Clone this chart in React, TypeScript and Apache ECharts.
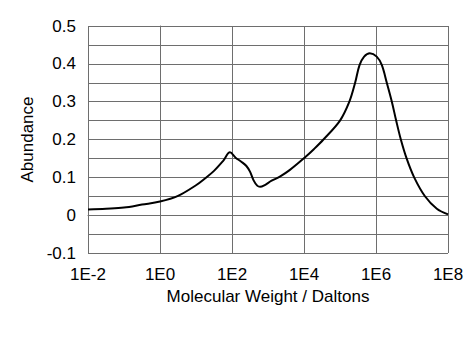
import React, { useEffect, useRef } from "react";
import * as echarts from "echarts";

// log10 of molecular weight (Daltons)
const logWeights = [
  -2, -1.5, -1, -0.5, 0, 0.5, 1, 1.25, 1.5, 1.75, 1.944, 2.1, 2.25, 2.4, 2.5,
  2.6, 2.7, 2.78, 2.9, 3.1, 3.33, 3.6, 4.03, 4.28, 4.54, 5.0, 5.26, 5.42, 5.54,
  5.67, 5.83, 6.02, 6.16, 6.3, 6.44, 6.56, 6.69, 6.85, 7.06, 7.36, 7.69, 8.0,
];
const abundance = [
  0.015, 0.017, 0.02, 0.028, 0.036, 0.051, 0.079, 0.097, 0.117, 0.143, 0.166,
  0.152, 0.142, 0.13, 0.115, 0.092, 0.078, 0.075, 0.079, 0.091, 0.102, 0.119,
  0.153, 0.175, 0.2, 0.25, 0.3, 0.35, 0.396, 0.419, 0.428, 0.419, 0.397, 0.35,
  0.3, 0.25, 0.2, 0.15, 0.1, 0.05, 0.017, 0.002,
];
const xTicks = [-2, 0, 2, 4, 6, 8];

const FONT = "'Liberation Sans', Arial, sans-serif";
const GRID = "#6e6e6e";

export default function App() {
  const ref = useRef<HTMLDivElement>(null);
  useEffect(() => {
    if (!ref.current) return;
    const chart = echarts.init(ref.current, undefined, { renderer: "svg" });
    chart.setOption({
      animation: false,
      backgroundColor: "#ffffff",
      grid: { left: 88, right: 26, top: 26, bottom: 102 },
      xAxis: {
        type: "value",
        min: xTicks[0],
        max: xTicks[xTicks.length - 1],
        interval: 2,
        name: "Molecular Weight / Daltons",
        nameLocation: "middle",
        nameGap: 35,
        nameTextStyle: { color: "#000", fontFamily: FONT, fontSize: 17 },
        axisLine: { show: true, lineStyle: { color: GRID, width: 1 } },
        axisTick: { show: true, length: 4, lineStyle: { color: GRID } },
        axisLabel: {
          color: "#000",
          fontFamily: FONT,
          fontSize: 17,
          margin: 13,
          formatter: (v: number) => "1E" + Math.round(v),
        },
        splitLine: { show: true, lineStyle: { color: GRID, width: 1 } },
      },
      yAxis: {
        type: "value",
        min: -0.1,
        max: 0.5,
        interval: 0.05,
        name: "Abundance",
        nameLocation: "middle",
        nameGap: 47,
        nameTextStyle: { color: "#000", fontFamily: FONT, fontSize: 17 },
        axisLine: { show: true, lineStyle: { color: GRID, width: 1 } },
        axisTick: { show: true, length: 5, lineStyle: { color: GRID } },
        axisLabel: {
          color: "#000",
          fontFamily: FONT,
          fontSize: 17,
          margin: 12,
          formatter: (v: number) => {
            const r = Math.round(v * 100);
            if (r % 10 !== 0) return "";
            return String(Number((r / 100).toFixed(1)));
          },
        },
        splitLine: { show: true, lineStyle: { color: GRID, width: 1 } },
      },
      series: [
        {
          type: "line",
          data: logWeights.map((x, i) => [x, abundance[i]]),
          smooth: 0.35,
          showSymbol: false,
          symbol: "none",
          lineStyle: { color: "#000", width: 2 },
        },
      ],
    });
    return () => chart.dispose();
  }, []);
  return (
    <div
      ref={ref}
      style={{ position: "fixed", left: 0, top: 0, width: 474, height: 355, background: "#fff" }}
    />
  );
}
